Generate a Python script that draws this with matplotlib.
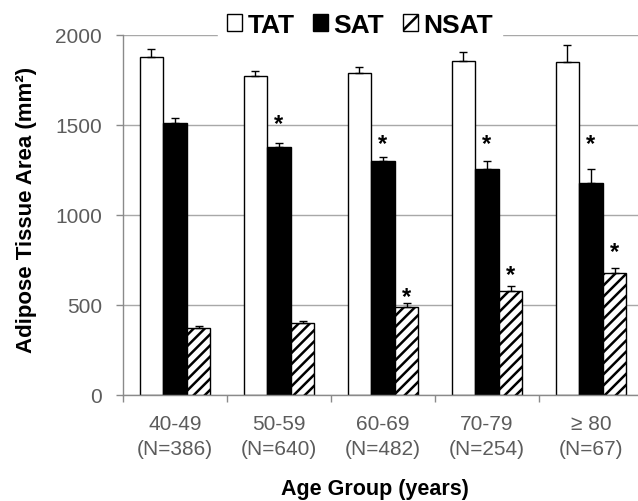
import numpy as np
import matplotlib
matplotlib.use("Agg")
import matplotlib.pyplot as plt
from matplotlib.patches import Patch

plt.rcParams['font.family'] = ['Liberation Sans', 'DejaVu Sans']
plt.rcParams['hatch.linewidth'] = 1.8

# data
age_groups = ["40-49\n(N=386)", "50-59\n(N=640)", "60-69\n(N=482)", "70-79\n(N=254)", "\u2265 80\n(N=67)"]
tat = [1880, 1770, 1790, 1858, 1850]
tat_err = [40, 30, 35, 48, 93]
sat = [1510, 1378, 1300, 1254, 1178]
sat_err = [30, 20, 24, 48, 76]
nsat = [372, 398, 487, 580, 676]
nsat_err = [13, 13, 22, 28, 30]
# significance stars (value where the star sits, None = no star)
sat_star = [None, 1539, 1433, 1433, 1433]
nsat_star = [None, None, 578, 700, 828]

fig = plt.figure(figsize=(6.38, 5.02), dpi=100)
ax = fig.add_axes([123 / 638, 1 - 396 / 502, 520 / 638, 360 / 502])

x = np.arange(len(age_groups))
w = 0.226
gray = "#8a8a8a"

# bars
ax.bar(x - w, tat, w, color="white", edgecolor="black", linewidth=1.0, zorder=2)
ax.bar(x, sat, w, color="black", edgecolor="black", linewidth=1.0, zorder=2)
ax.bar(x + w, nsat, w, color="white", edgecolor="black", linewidth=1.0, hatch="///", zorder=2)

# upper error bars only
for pos, vals, errs in [(x - w, tat, tat_err), (x, sat, sat_err), (x + w, nsat, nsat_err)]:
    ax.errorbar(pos, vals, yerr=[np.zeros(len(errs)), errs], fmt="none", ecolor="black",
                elinewidth=1.0, capsize=3, capthick=1.0, zorder=3)

# stars
for i in range(len(age_groups)):
    if sat_star[i] is not None:
        ax.annotate("*", xy=(x[i], sat_star[i]), xytext=(0, -9), textcoords="offset points",
                    ha="center", va="baseline", fontsize=17, fontweight="bold")
    if nsat_star[i] is not None:
        ax.annotate("*", xy=(x[i] + w, nsat_star[i]), xytext=(0, -9), textcoords="offset points",
                    ha="center", va="baseline", fontsize=17, fontweight="bold")

ax.set_xlim(-0.5, len(age_groups) - 0.5)
ax.set_ylim(0, 2000)
ax.set_yticks([0, 500, 1000, 1500, 2000])
ax.set_xticks(x)
ax.set_xticklabels(age_groups, linespacing=1.4)
ax.set_xticks(np.arange(-0.5, len(age_groups), 1.0), minor=True)
ax.tick_params(axis="x", which="major", length=0, pad=14, labelsize=15, labelcolor="#5c5c5c")
ax.tick_params(axis="x", which="minor", length=5, width=1, color=gray, direction="out")
ax.tick_params(axis="y", length=5, width=1, color=gray, pad=10, labelsize=15, labelcolor="#5c5c5c")

ax.grid(axis="y", color="#a8a8a8", linewidth=1.0)
ax.set_axisbelow(True)
for side in ["top", "right"]:
    ax.spines[side].set_visible(False)
for side in ["left", "bottom"]:
    ax.spines[side].set_color(gray)
    ax.spines[side].set_linewidth(1.0)

# axis titles
fig.text(27 / 638, 1 - 210 / 502, "Adipose Tissue Area (mm\u00b2)", rotation=90,
         ha="center", va="center", fontsize=16, fontweight="bold")
fig.text(375 / 638, 1 - 490 / 502, "Age Group (years)", ha="center", va="center",
         fontsize=15.5, fontweight="bold")

# legend on top of the 2000 gridline
handles = [Patch(facecolor="white", edgecolor="black", linewidth=1.0),
           Patch(facecolor="black", edgecolor="black", linewidth=1.0),
           Patch(facecolor="white", edgecolor="black", linewidth=1.0, hatch="/")]
leg = fig.legend(handles, ["TAT", "SAT", "NSAT"], loc="center", ncol=3,
                 bbox_to_anchor=(360 / 638, 1 - 26 / 502), bbox_transform=fig.transFigure,
                 prop={"size": 19, "weight": "bold"}, handlelength=0.58, handleheight=0.58,
                 handletextpad=0.2, columnspacing=0.7, borderpad=0.35,
                 frameon=True, fancybox=False, framealpha=1.0)
leg.get_frame().set_facecolor("white")
leg.get_frame().set_edgecolor("white")
leg.set_zorder(10)

plt.savefig("out.png", dpi=100)
